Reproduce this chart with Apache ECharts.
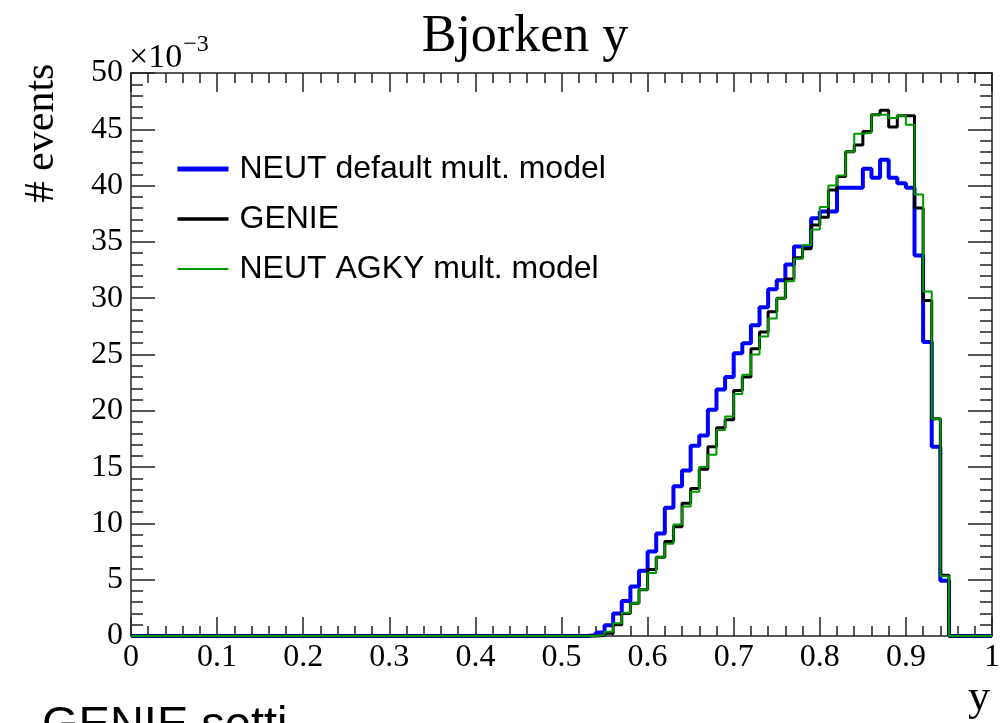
<!DOCTYPE html>
<html>
<head>
<meta charset="utf-8">
<title>Bjorken y</title>
<script src="https://cdn.jsdelivr.net/npm/echarts@6/dist/echarts.min.js"></script>
<style>
  html, body { margin: 0; padding: 0; background: #fff; }
  #main { width: 1003px; height: 723px; }
</style>
</head>
<body>
<div id="main"></div>
<script>
// histogram: 100 bins of width 0.01 on y in [0, 1], values in units of 1e-3
var binWidth = 0.01;
var nBins = 100;

var neutDefault = [
  0, 0, 0, 0, 0, 0, 0, 0, 0, 0,
  0, 0, 0, 0, 0, 0, 0, 0, 0, 0,
  0, 0, 0, 0, 0, 0, 0, 0, 0, 0,
  0, 0, 0, 0, 0, 0, 0, 0, 0, 0,
  0, 0, 0, 0, 0, 0, 0, 0, 0, 0,
  0, 0, 0, 0.1, 0.3, 0.95, 2.0, 3.1, 4.4, 5.8,
  7.5, 9.1, 11.4, 13.3, 14.7, 16.9, 17.8, 20.1, 21.9, 23.0,
  25.1, 26.0, 27.6, 29.2, 30.8, 31.6, 33.0, 34.6, 34.6, 37.1,
  37.7, 37.7, 39.8, 39.8, 39.8, 41.5, 40.7, 42.3, 40.7, 40.2,
  39.8, 33.8, 26.1, 16.8, 4.9, 0, 0, 0, 0, 0
];

var genie = [
  0, 0, 0, 0, 0, 0, 0, 0, 0, 0,
  0, 0, 0, 0, 0, 0, 0, 0, 0, 0,
  0, 0, 0, 0, 0, 0, 0, 0, 0, 0,
  0, 0, 0, 0, 0, 0, 0, 0, 0, 0,
  0, 0, 0, 0, 0, 0, 0, 0, 0, 0,
  0, 0, 0, 0, 0.05, 0.25, 1.0, 2.0, 2.9, 4.1,
  5.9, 7.0, 8.4, 9.7, 11.8, 13.1, 14.8, 16.8, 18.5, 19.2,
  21.8, 23.0, 25.5, 27.0, 28.8, 30.0, 31.7, 33.6, 34.4, 36.5,
  37.2, 39.6, 40.8, 43.0, 43.6, 44.8, 46.3, 46.7, 45.2, 46.2,
  46.2, 38.0, 29.8, 19.3, 5.4, 0, 0, 0, 0, 0
];

var neutAgky = [
  0, 0, 0, 0, 0, 0, 0, 0, 0, 0,
  0, 0, 0, 0, 0, 0, 0, 0, 0, 0,
  0, 0, 0, 0, 0, 0, 0, 0, 0, 0,
  0, 0, 0, 0, 0, 0, 0, 0, 0, 0,
  0, 0, 0, 0, 0, 0, 0, 0, 0, 0,
  0, 0, 0, 0, 0.1, 0.38, 1.13, 2.07, 2.9, 4.1,
  5.6, 7.0, 8.2, 9.9, 11.5, 12.8, 15.0, 16.1, 18.3, 19.5,
  21.5, 23.2, 25.0, 26.6, 28.2, 30.0, 31.5, 33.5, 34.7, 36.1,
  38.1, 40.0, 40.9, 43.0, 44.6, 44.7, 46.3, 46.3, 46.0, 46.2,
  45.4, 39.2, 30.6, 19.3, 5.3, 0, 0, 0, 0, 0
];

var seriesNames = ['NEUT default mult. model', 'GENIE', 'NEUT AGKY mult. model'];
var seriesColors = ['#0000ff', '#000000', '#009900'];
var seriesWidths = [4, 3, 2];
var legendWidths = [5, 3.5, 2];

var serif = "'Liberation Serif', 'DejaVu Serif', serif";
var sans = "'Liberation Sans', Arial, sans-serif";

// [lowEdge, value] pairs, plus the closing edge at y = 1
function toSteps(values) {
  var pts = [];
  for (var i = 0; i < nBins; i++) {
    pts.push([+(i * binWidth).toFixed(2), values[i]]);
  }
  pts.push([1, values[nBins - 1]]);
  return pts;
}

var chart = echarts.init(document.getElementById('main'));

function xAxisCfg(pos, showLabel) {
  return {
    type: 'value', position: pos, min: 0, max: 1, interval: 0.1,
    axisLine: { show: true, onZero: false, lineStyle: { color: '#222', width: 1.5 } },
    axisTick: { show: true, inside: true, length: 19, lineStyle: { color: '#222', width: 1.5 } },
    minorTick: { show: true, splitNumber: 5, length: 10, lineStyle: { color: '#222', width: 1.5 } },
    splitLine: { show: false },
    axisLabel: {
      show: showLabel, margin: 6, color: '#000', fontSize: 32, fontFamily: serif,
      formatter: function (v) { return String(+v.toFixed(1)); }
    }
  };
}

function yAxisCfg(pos, showLabel) {
  return {
    type: 'value', position: pos, min: 0, max: 50, interval: 5,
    axisLine: { show: true, onZero: false, lineStyle: { color: '#222', width: 1.5 } },
    axisTick: { show: true, inside: true, length: 24, lineStyle: { color: '#222', width: 1.5 } },
    minorTick: { show: true, splitNumber: 5, length: 12, lineStyle: { color: '#222', width: 1.5 } },
    splitLine: { show: false },
    axisLabel: { show: showLabel, margin: 8, color: '#000', fontSize: 32, fontFamily: serif }
  };
}

var allValues = [neutDefault, genie, neutAgky];
var series = allValues.map(function (vals, k) {
  return {
    name: seriesNames[k],
    type: 'line',
    step: 'end',
    data: toSteps(vals),
    symbol: 'none',
    clip: false,
    color: seriesColors[k],
    lineStyle: { color: seriesColors[k], width: seriesWidths[k] },
    z: 2 + k
  };
});

var legendData = seriesNames.map(function (name, k) {
  return { name: name, lineStyle: { color: seriesColors[k], width: legendWidths[k] } };
});

chart.setOption({
  animation: false,
  backgroundColor: '#fff',
  grid: { left: 131, right: 11, top: 73, bottom: 87 },
  xAxis: [xAxisCfg('bottom', true), xAxisCfg('top', false)],
  yAxis: [yAxisCfg('left', true), yAxisCfg('right', false)],
  legend: {
    orient: 'vertical', left: 175, top: 153, padding: 0,
    itemWidth: 51, itemHeight: 14, itemGap: 18,
    itemStyle: { opacity: 0 },  // line only, no marker
    data: legendData,
    textStyle: { fontFamily: sans, fontSize: 32, color: '#000', lineHeight: 32, padding: [0, 0, 0, 6] }
  },
  graphic: [
    { type: 'text', x: 525, y: 11,
      style: { text: 'Bjorken y', font: '52px ' + serif, fill: '#000', align: 'center', verticalAlign: 'top' } },
    { type: 'text', x: 42, y: 133, rotation: Math.PI / 2,
      style: { text: '# events', font: '42px ' + serif, fill: '#000', align: 'center', verticalAlign: 'middle' } },
    { type: 'text', x: 990, y: 720,
      style: { text: 'y', font: '44px ' + serif, fill: '#000', align: 'right', verticalAlign: 'bottom' } },
    { type: 'text', x: 129, y: 75,
      style: {
        text: '{a|\u00d710}{b|\u22123}',
        verticalAlign: 'bottom',
        rich: {
          a: { fontFamily: serif, fontSize: 34, fill: '#000', verticalAlign: 'bottom' },
          b: { fontFamily: serif, fontSize: 24, fill: '#000', padding: [0, 0, 18, 1] }
        }
      } },
    { type: 'text', x: 42, y: 703,
      style: { text: 'GENIE setti', font: '47px ' + sans, fill: '#000', verticalAlign: 'top' } }
  ],
  series: series
});
</script>
</body>
</html>
